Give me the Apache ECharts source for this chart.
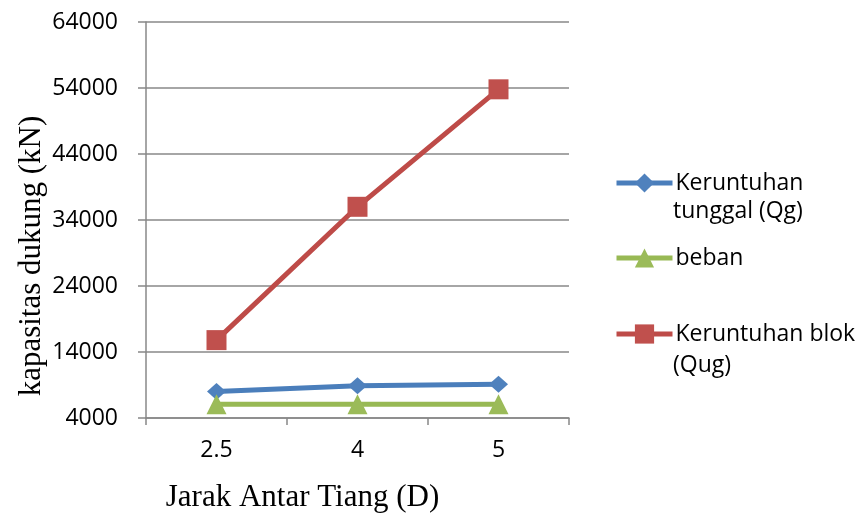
<!DOCTYPE html>
<html>
<head>
<meta charset="utf-8">
<script src="https://cdn.jsdelivr.net/npm/echarts@6/dist/echarts.min.js"></script>
<style>html,body{margin:0;padding:0;background:#fff}#c{width:857px;height:523px}</style>
</head>
<body>
<div id="c"></div>
<script>
var categories = ['2.5', '4', '5'];
var tunggal = [8000, 8900, 9100];
var beban = [6100, 6100, 6100];
var blok = [15800, 36000, 53800];
var seriesNames = ['Keruntuhan tunggal (Qg)', 'beban', 'Keruntuhan blok (Qug)'];
var legendLine1 = ['Keruntuhan', 'beban', 'Keruntuhan blok'];
var legendLine2 = ['tunggal (Qg)', '', '(Qug)'];
var yMin = 4000, yMax = 64000, yStep = 10000;

var colors = ['#4a7ebb', '#98b954', '#be4b48'];
var gray = '#888888';
var chart = echarts.init(document.getElementById('c'), null, {renderer: 'canvas'});

function mkLegend(i, top) {
  return {
    data: [seriesNames[i]],
    left: 614, top: top, orient: 'vertical', padding: 0,
    itemWidth: 56, itemHeight: 24, itemGap: 0,
    lineStyle: {width: 5},
    formatter: function () { return legendLine1[i]; },
    textStyle: {fontFamily: 'Open Sans', fontSize: 23, color: '#000', lineHeight: 30, padding: [0,0,0,-2]}
  };
}

var option = {
  animation: false,
  grid: {left: 146, right: 288, top: 22, bottom: 105, containLabel: false},
  legend: [mkLegend(0, 168), mkLegend(1, 243), mkLegend(2, 319)],
  graphic: [
    {type: 'text', left: 673, top: 200, style: {text: legendLine2[0], fontFamily: 'Open Sans', fontSize: 23, fill: '#000'}},
    {type: 'text', left: 673, top: 354, style: {text: legendLine2[2], fontFamily: 'Open Sans', fontSize: 23, fill: '#000'}}
  ],
  xAxis: {
    type: 'category', data: categories, boundaryGap: true,
    name: 'Jarak Antar Tiang (D)', nameLocation: 'middle', nameGap: 64,
    nameTextStyle: {fontFamily: 'Liberation Serif', fontSize: 31, color: '#000', padding: [0, 110, 0, 0]},
    axisLine: {lineStyle: {color: gray, width: 1.5}},
    axisTick: {show: true, alignWithLabel: false, length: 7, lineStyle: {color: gray, width: 1.5}},
    axisLabel: {fontFamily: 'Open Sans', fontSize: 23, color: '#000', margin: 21},
    splitLine: {show: false}
  },
  yAxis: {
    type: 'value', min: yMin, max: yMax, interval: yStep,
    name: 'kapasitas dukung (kN)', nameLocation: 'middle', nameGap: 99,
    nameTextStyle: {fontFamily: 'Liberation Serif', fontSize: 31, color: '#000', padding: [0, 72, 0, 0]},
    axisLine: {show: true, lineStyle: {color: gray, width: 1.5}},
    axisTick: {show: true, length: 8, lineStyle: {color: gray, width: 1.5}},
    axisLabel: {fontFamily: 'Open Sans', fontSize: 23, color: '#000', margin: 28,
                formatter: function (v) { return String(v); }},
    splitLine: {show: true, lineStyle: {color: gray, width: 1.5}}
  },
  series: [
    {name: seriesNames[0], type: 'line', data: tunggal, symbol: 'diamond', symbolSize: [19, 17],
     itemStyle: {color: '#4f81bd'}, lineStyle: {color: colors[0], width: 5}, z: 2},
    {name: seriesNames[1], type: 'line', data: beban, symbol: 'triangle', symbolSize: 20,
     itemStyle: {color: '#9bbb59'}, lineStyle: {color: colors[1], width: 5}, z: 3},
    {name: seriesNames[2], type: 'line', data: blok, symbol: 'rect', symbolSize: 20,
     itemStyle: {color: '#c0504d'}, lineStyle: {color: colors[2], width: 5}, z: 4}
  ]
};
chart.setOption(option);
</script>
</body>
</html>
